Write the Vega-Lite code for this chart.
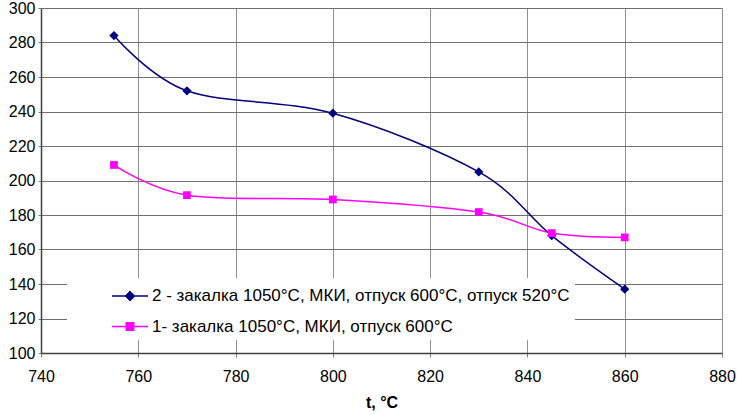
{
  "$schema": "https://vega.github.io/schema/vega-lite/v6.json",
  "autosize": "none",
  "width": 681,
  "height": 345,
  "padding": {"left": 41, "top": 8, "right": 15, "bottom": 62},
  "background": "white",
  "config": {
    "view": {"stroke": null},
    "font": "Liberation Sans"
  },
  "data": {
    "values": [
      {"t": 755, "v": 284, "series": "2 - закалка 1050°C, МКИ, отпуск 600°C, отпуск 520°C"},
      {"t": 770, "v": 252, "series": "2 - закалка 1050°C, МКИ, отпуск 600°C, отпуск 520°C"},
      {"t": 800, "v": 239, "series": "2 - закалка 1050°C, МКИ, отпуск 600°C, отпуск 520°C"},
      {"t": 830, "v": 205, "series": "2 - закалка 1050°C, МКИ, отпуск 600°C, отпуск 520°C"},
      {"t": 845, "v": 168, "series": "2 - закалка 1050°C, МКИ, отпуск 600°C, отпуск 520°C"},
      {"t": 860, "v": 137, "series": "2 - закалка 1050°C, МКИ, отпуск 600°C, отпуск 520°C"},
      {"t": 755, "v": 209, "series": "1- закалка 1050°C, МКИ,  отпуск 600°C"},
      {"t": 770, "v": 191.5, "series": "1- закалка 1050°C, МКИ,  отпуск 600°C"},
      {"t": 800, "v": 189, "series": "1- закалка 1050°C, МКИ,  отпуск 600°C"},
      {"t": 830, "v": 181.7, "series": "1- закалка 1050°C, МКИ,  отпуск 600°C"},
      {"t": 845, "v": 169.5, "series": "1- закалка 1050°C, МКИ,  отпуск 600°C"},
      {"t": 860, "v": 167, "series": "1- закалка 1050°C, МКИ,  отпуск 600°C"}
    ]
  },
  "encoding": {
    "x": {
      "field": "t", "type": "quantitative",
      "scale": {"domain": [740, 880], "nice": false, "zero": false},
      "axis": {
        "title": "t, °C", "values": [740, 760, 780, 800, 820, 840, 860, 880],
        "format": "d", "labelFontSize": 16, "labelColor": "black", "labelPadding": 11,
        "tickSize": 4, "tickColor": "#808080", "domainColor": "#404040", "domainWidth": 1.5,
        "gridColor": "#909090", "gridWidth": 1, "labelFlush": false,
        "titleFontSize": 16, "titleFontWeight": "bold", "titleColor": "black", "titlePadding": 10
      }
    },
    "y": {
      "field": "v", "type": "quantitative",
      "scale": {"domain": [100, 300], "nice": false, "zero": false},
      "axis": {
        "title": null, "values": [100, 120, 140, 160, 180, 200, 220, 240, 260, 280, 300],
        "labelFontSize": 16, "labelColor": "black", "labelPadding": 3,
        "tickSize": 3, "tickColor": "#808080", "domainColor": "#404040", "domainWidth": 1.5,
        "gridColor": "#707070", "gridWidth": 1, "labelFlush": false
      }
    },
    "color": {
      "field": "series", "type": "nominal",
      "scale": {
        "domain": ["2 - закалка 1050°C, МКИ, отпуск 600°C, отпуск 520°C", "1- закалка 1050°C, МКИ,  отпуск 600°C"],
        "range": ["#000080", "#FF00FF"]
      },
      "legend": {
        "title": null, "orient": "none", "legendX": 26, "legendY": 270,
        "padding": 5, "fillColor": "white", "strokeColor": null,
        "symbolSize": 576, "symbolStrokeWidth": 1.5, "rowPadding": 9.5,
        "labelOffset": 54, "labelFontSize": 17, "labelColor": "black", "labelLimit": 700,
        "encode": {
          "symbols": {
            "update": {
              "shape": {"signal": "datum.index === 0 ? 'M2.25,0H5.25M3.75,-0.36L4.11,0L3.75,0.36L3.39,0Z' : 'M2.25,0H5.25M3.44,-0.31H4.06V0.31H3.44Z'"},
              "fill": {"signal": "scale('color', datum.value)"},
              "stroke": {"signal": "scale('color', datum.value)"},
              "strokeWidth": {"value": 1.5},
              "opacity": {"value": 1}
            }
          }
        }
      }
    }
  },
  "layer": [
    {
      "mark": {"type": "line", "interpolate": "cardinal", "strokeWidth": 1.5}
    },
    {
      "transform": [{"filter": "datum.series === '2 - закалка 1050°C, МКИ, отпуск 600°C, отпуск 520°C'"}],
      "mark": {"type": "point", "filled": true, "opacity": 1, "shape": "diamond", "size": 85}
    },
    {
      "transform": [{"filter": "datum.series === '1- закалка 1050°C, МКИ,  отпуск 600°C'"}],
      "mark": {"type": "point", "filled": true, "opacity": 1, "shape": "square", "size": 60}
    }
  ]
}
